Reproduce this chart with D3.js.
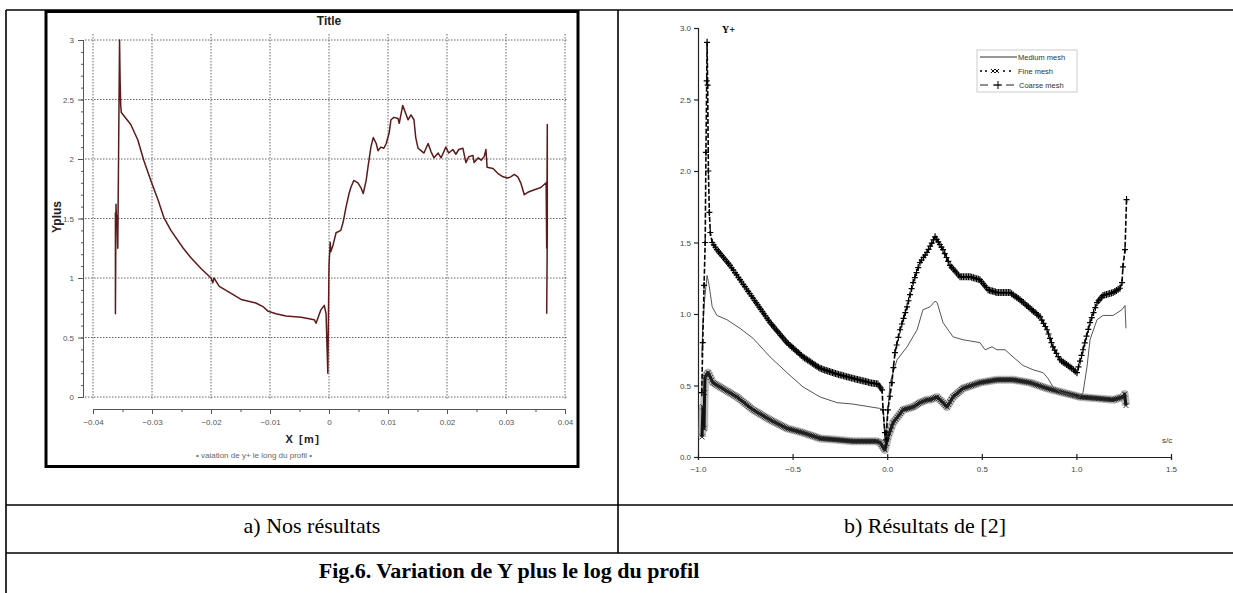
<!DOCTYPE html>
<html>
<head>
<meta charset="utf-8">
<script src="https://cdn.jsdelivr.net/npm/d3@7"></script>
<style>
body { margin: 0; background: #fff; }
svg { display: block; }
</style>
</head>
<body>
<div id="fig"></div>
<script>
// --- dades: gràfic a) (X en m, Yplus)
const xNos = [-0.0362, -0.0362, -0.0361, -0.0360, -0.0359, -0.0358, -0.0355, -0.0354, -0.0353, -0.0352,
	-0.0336, -0.0324, -0.0314, -0.0302, -0.0290, -0.0280, -0.0268, -0.0247, -0.0234, -0.0217,
	-0.0200, -0.0197, -0.0195, -0.0186, -0.0166, -0.0149, -0.0124, -0.0112, -0.0103, -0.0090,
	-0.0073, -0.0047, -0.0025, -0.0022, -0.0014, -0.0008, -0.0005, -0.0002, 0.0000, 0.0002,
	0.0003, 0.0007, 0.0012, 0.0020, 0.0024, 0.0029, 0.0034, 0.0037, 0.0042, 0.0049,
	0.0054, 0.0058, 0.0063, 0.0066, 0.0071, 0.0075, 0.0080, 0.0083, 0.0088, 0.0093,
	0.0097, 0.0102, 0.0105, 0.0110, 0.0117, 0.0119, 0.0125, 0.0131, 0.0134, 0.0139,
	0.0144, 0.0147, 0.0151, 0.0156, 0.0161, 0.0168, 0.0173, 0.0178, 0.0185, 0.0190,
	0.0198, 0.0203, 0.0210, 0.0215, 0.0220, 0.0227, 0.0232, 0.0237, 0.0244, 0.0246,
	0.0253, 0.0258, 0.0263, 0.0266, 0.0268, 0.0278, 0.0286, 0.0295, 0.0303, 0.0308,
	0.0314, 0.0320, 0.0325, 0.0331, 0.0337, 0.0347, 0.0359, 0.0368, 0.0369, 0.0370,
	0.0370, 0.0369];
const yNos = [1.55, 0.70, 1.62, 1.45, 1.52, 1.25, 3.00, 2.65, 2.45, 2.39,
	2.29, 2.16, 1.99, 1.82, 1.66, 1.51, 1.40, 1.25, 1.17, 1.08,
	1.00, 0.96, 1.00, 0.93, 0.87, 0.82, 0.79, 0.76, 0.72, 0.70,
	0.68, 0.67, 0.65, 0.62, 0.73, 0.77, 0.70, 0.20, 1.10, 1.30,
	1.22, 1.28, 1.38, 1.40, 1.47, 1.60, 1.71, 1.76, 1.82, 1.80,
	1.76, 1.71, 1.82, 1.93, 2.10, 2.18, 2.13, 2.07, 2.10, 2.09,
	2.13, 2.22, 2.33, 2.35, 2.34, 2.30, 2.45, 2.37, 2.33, 2.37,
	2.33, 2.18, 2.09, 2.07, 2.05, 2.13, 2.06, 2.01, 2.05, 2.01,
	2.10, 2.05, 2.08, 2.04, 2.08, 2.09, 1.97, 2.02, 2.03, 1.97,
	2.01, 1.99, 2.02, 2.08, 1.93, 1.92, 1.88, 1.85, 1.84, 1.85,
	1.87, 1.85, 1.80, 1.70, 1.72, 1.74, 1.76, 1.80, 1.25, 2.29,
	1.40, 0.70];
const xTicsNos = [-0.04, -0.03, -0.02, -0.01, 0, 0.01, 0.02, 0.03, 0.04];
const yTicsNos = [0, 0.5, 1, 1.5, 2, 2.5, 3];

// --- dades: gràfic b) (s/c, Y+)
const sMedium = [-0.980, -0.975, -0.965, -0.952, -0.940, -0.925, -0.900, -0.847, -0.778, -0.709,
	-0.619, -0.530, -0.445, -0.355, -0.265, -0.181, -0.040, -0.020, -0.012, -0.005,
	0.004, 0.015, 0.052, 0.105, 0.158, 0.189, 0.226, 0.253, 0.264, 0.295,
	0.348, 0.401, 0.490, 0.517, 0.554, 0.580, 0.623, 0.665, 0.718, 0.771,
	0.824, 0.850, 0.876, 0.920, 0.980, 1.008, 1.035, 1.056, 1.072, 1.109,
	1.141, 1.194, 1.241, 1.257, 1.262];
const vMedium = [0.70, 0.91, 1.10, 1.27, 1.19, 1.05, 0.99, 0.96, 0.90, 0.83,
	0.70, 0.59, 0.49, 0.42, 0.38, 0.37, 0.34, 0.33, 0.10, 0.20,
	0.33, 0.52, 0.68, 0.77, 0.89, 1.03, 1.05, 1.09, 1.08, 0.94,
	0.84, 0.82, 0.80, 0.75, 0.77, 0.75, 0.75, 0.70, 0.64, 0.61,
	0.59, 0.55, 0.49, 0.45, 0.43, 0.41, 0.45, 0.63, 0.82, 0.96,
	0.99, 0.99, 1.03, 1.06, 0.90];
const sFine = [-0.979, -0.974, -0.968, -0.965, -0.963, -0.947, -0.921, -0.884, -0.794, -0.709,
	-0.619, -0.530, -0.445, -0.355, -0.265, -0.181, -0.054, -0.038, -0.012, 0.004,
	0.031, 0.084, 0.137, 0.173, 0.210, 0.226, 0.263, 0.295, 0.316, 0.348,
	0.401, 0.490, 0.580, 0.665, 0.755, 0.845, 0.930, 1.019, 1.109, 1.194,
	1.247, 1.255, 1.262];
const vFine = [0.14, 0.35, 0.20, 0.45, 0.56, 0.59, 0.52, 0.49, 0.42, 0.33,
	0.26, 0.20, 0.17, 0.13, 0.12, 0.11, 0.11, 0.10, 0.05, 0.14,
	0.24, 0.33, 0.35, 0.38, 0.40, 0.40, 0.42, 0.38, 0.35, 0.42,
	0.48, 0.52, 0.54, 0.54, 0.52, 0.48, 0.45, 0.42, 0.41, 0.40,
	0.42, 0.44, 0.36];
const sCoarse = [-0.980, -0.975, -0.968, -0.962, -0.958, -0.954, -0.952, -0.949, -0.945, -0.940,
	-0.935, -0.925, -0.900, -0.831, -0.778, -0.709, -0.619, -0.530, -0.445, -0.355,
	-0.265, -0.181, -0.091, -0.049, -0.027, -0.022, -0.012, -0.006, 0.004, 0.025,
	0.041, 0.068, 0.105, 0.137, 0.173, 0.210, 0.253, 0.295, 0.332, 0.385,
	0.438, 0.490, 0.533, 0.580, 0.649, 0.702, 0.755, 0.808, 0.845, 0.876,
	0.913, 0.966, 1.003, 1.035, 1.072, 1.109, 1.141, 1.194, 1.230, 1.241,
	1.246, 1.257, 1.265];
const vCoarse = [0.45, 0.80, 1.20, 1.50, 2.13, 2.63, 2.90, 2.60, 2.00, 1.71,
	1.57, 1.50, 1.45, 1.34, 1.24, 1.11, 0.94, 0.80, 0.70, 0.62,
	0.58, 0.55, 0.52, 0.51, 0.47, 0.33, 0.17, 0.12, 0.33, 0.52,
	0.73, 0.89, 1.05, 1.22, 1.36, 1.43, 1.54, 1.45, 1.34, 1.26,
	1.26, 1.24, 1.17, 1.15, 1.15, 1.10, 1.04, 0.98, 0.89, 0.77,
	0.68, 0.63, 0.59, 0.75, 0.94, 1.08, 1.13, 1.15, 1.18, 1.22,
	1.33, 1.45, 1.80];
const xTicsRes = [-1.0, -0.5, 0.0, 0.5, 1.0, 1.5];
const yTicsRes = [0.0, 0.5, 1.0, 1.5, 2.0, 2.5, 3.0];
const llegendaRes = ['Medium mesh', 'Fine mesh', 'Coarse mesh'];

const Amplada = 1233, Alçada = 593;
const sans = 'Liberation Sans, Arial, sans-serif';
const serif = 'Liberation Serif, Times New Roman, serif';

const svg = d3.select('#fig').append('svg')
	.attr('width', Amplada)
	.attr('height', Alçada);

// taula del document
const taula = svg.append('g').attr('stroke', '#000').attr('stroke-width', 1.6);
taula.append('line').attr('x1', 6).attr('x2', 6).attr('y1', 10).attr('y2', Alçada);
taula.append('line').attr('x1', 6).attr('x2', Amplada).attr('y1', 10).attr('y2', 10);
taula.append('line').attr('x1', 618).attr('x2', 618).attr('y1', 10).attr('y2', 553);
taula.append('line').attr('x1', 6).attr('x2', Amplada).attr('y1', 505).attr('y2', 505);
taula.append('line').attr('x1', 6).attr('x2', Amplada).attr('y1', 553).attr('y2', 553);

svg.append('text').attr('x', 312).attr('y', 533).attr('text-anchor', 'middle')
	.style('font-family', serif).style('font-size', '22px').text('a) Nos résultats');
svg.append('text').attr('x', 925).attr('y', 533).attr('text-anchor', 'middle')
	.style('font-family', serif).style('font-size', '22px').text('b) Résultats de [2]');
svg.append('text').attr('x', 509).attr('y', 578).attr('text-anchor', 'middle')
	.style('font-family', serif).style('font-size', '22px').style('font-weight', 'bold')
	.text('Fig.6. Variation de Y plus le log du profil');

// ================= gràfic a)
const gA = svg.append('g');
gA.append('rect').attr('x', 46).attr('y', 11.5).attr('width', 532).attr('height', 455)
	.attr('fill', '#fff').attr('stroke', '#000').attr('stroke-width', 3);

const xA = d3.scaleLinear().domain([-0.04, 0.04]).range([93, 565]);
const yA = d3.scaleLinear().domain([0, 3]).range([397, 40]);

// reixeta puntejada
gA.append('g').selectAll('line').data(xTicsNos).join('line')
	.attr('x1', d => xA(d)).attr('x2', d => xA(d))
	.attr('y1', 34).attr('y2', 400)
	.attr('stroke', '#666').attr('stroke-width', 1).attr('stroke-dasharray', '1.5,1.5');
gA.append('g').selectAll('line').data(yTicsNos).join('line')
	.attr('x1', 85).attr('x2', 567)
	.attr('y1', d => yA(d)).attr('y2', d => yA(d))
	.attr('stroke', '#666').attr('stroke-width', 1).attr('stroke-dasharray', '1.5,1.5');

// eixos
const eixY = gA.append('g').attr('transform', 'translate(83,0)');
eixY.call(d3.axisLeft(yA).ticks(30).tickSize(2).tickFormat(''));
eixY.call(g => g.append('g').call(d3.axisLeft(yA).tickValues(yTicsNos).tickSize(5).tickFormat(d3.format('~g'))));
const eixX = gA.append('g').attr('transform', 'translate(0,409)');
eixX.call(d3.axisBottom(xA).ticks(16).tickSize(3).tickFormat(''));
eixX.call(g => g.append('g').call(d3.axisBottom(xA).tickValues(xTicsNos).tickSize(5).tickFormat(d3.format('~g'))));
gA.selectAll('.domain').attr('stroke', '#555');
gA.selectAll('.tick line').attr('stroke', '#555');
gA.selectAll('.tick text').attr('fill', '#555').style('font-family', sans).style('font-size', '8px');
eixY.selectAll('.tick text').attr('x', -9);
eixX.selectAll('.tick text').attr('y', 10);

gA.append('path')
	.datum(d3.zip(xNos, yNos))
	.attr('fill', 'none')
	.attr('stroke', '#5e1a1a')
	.attr('stroke-width', 1.5)
	.attr('stroke-linejoin', 'round')
	.attr('d', d3.line().x(d => xA(d[0])).y(d => yA(d[1])));

gA.append('text').attr('x', 329).attr('y', 25).attr('text-anchor', 'middle')
	.style('font-family', sans).style('font-size', '12px').style('font-weight', 'bold')
	.attr('fill', '#222').text('Title');
gA.append('text').attr('transform', 'translate(61,217) rotate(-90)').attr('text-anchor', 'middle')
	.style('font-family', sans).style('font-size', '12px').style('font-weight', 'bold')
	.attr('fill', '#222').text('Yplus');
gA.append('text').attr('x', 303).attr('y', 443).attr('text-anchor', 'middle')
	.style('font-family', sans).style('font-size', '11px').style('font-weight', 'bold')
	.style('letter-spacing', '1.5px').attr('fill', '#222').text('X [m]');
gA.append('text').attr('x', 254).attr('y', 458).attr('text-anchor', 'middle')
	.style('font-family', sans).style('font-size', '8px').attr('fill', '#666')
	.text('•  vaiation de y+ le long du profil  •');

// ================= gràfic b)
const gB = svg.append('g');
const xB = d3.scaleLinear().domain([-1, 1.5]).range([698, 1171]);
const yB = d3.scaleLinear().domain([0, 3]).range([457, 28]);

const eixYB = gB.append('g').attr('transform', 'translate(698,0)')
	.call(d3.axisLeft(yB).tickValues(yTicsRes).tickSize(4).tickFormat(d3.format('.1f')));
const eixXB = gB.append('g').attr('transform', 'translate(0,457)')
	.call(d3.axisBottom(xB).tickValues(xTicsRes).tickSize(3).tickFormat(d3.format('.1f')));
eixXB.selectAll('.tick line').attr('y1', -3);
gB.selectAll('.domain').attr('stroke', '#222').attr('stroke-width', 1.2);
gB.selectAll('.tick line').attr('stroke', '#222').attr('stroke-width', 1.2);
gB.selectAll('.tick text').attr('fill', '#444').style('font-family', sans).style('font-size', '8px');
eixXB.selectAll('.tick text').attr('y', 9);

gB.append('text').attr('x', 722).attr('y', 33)
	.style('font-family', serif).style('font-size', '10px').style('font-weight', 'bold').text('Y+');
gB.append('text').attr('x', 1162).attr('y', 443)
	.style('font-family', sans).style('font-size', '8px').attr('fill', '#333').text('s/c');

const línia = d3.line().x(d => xB(d[0])).y(d => yB(d[1]));

// marques al llarg de la corba (densitat segons l'avanç en s)
function marques(pts, pas) {
	const px = pts.map(d => [xB(d[0]), yB(d[1])]);
	const fora = [];
	for (let i = 0; i < px.length - 1; i++) {
		const [x0, y0] = px[i], [x1, y1] = px[i + 1];
		const n = Math.max(1, Math.round(Math.abs(x1 - x0) / pas));
		for (let j = 0; j < n; j++) {
			const t = j / n;
			fora.push([x0 + (x1 - x0) * t, y0 + (y1 - y0) * t]);
		}
	}
	fora.push(px[px.length - 1]);
	return fora;
}

// Fine mesh: banda de creus x
const fina = d3.zip(sFine, vFine);
gB.append('path').datum(fina).attr('d', línia).attr('fill', 'none')
	.attr('stroke', '#888').attr('stroke-width', 8).attr('stroke-opacity', 0.6).attr('stroke-linejoin', 'round');
gB.append('path').datum(fina).attr('d', línia).attr('fill', 'none')
	.attr('stroke', '#111').attr('stroke-width', 3).attr('stroke-linejoin', 'round');
gB.append('g').selectAll('path').data(marques(fina, 1.4)).join('path')
	.attr('d', d => `M${d[0] - 2.5},${d[1] - 2.5}L${d[0] + 2.5},${d[1] + 2.5}M${d[0] - 2.5},${d[1] + 2.5}L${d[0] + 2.5},${d[1] - 2.5}`)
	.attr('stroke', '#222').attr('stroke-width', 0.9);

// Medium mesh: línia fina
gB.append('path').datum(d3.zip(sMedium, vMedium)).attr('d', línia).attr('fill', 'none')
	.attr('stroke', '#555').attr('stroke-width', 1);

// Coarse mesh: traç discontinu amb creus +
const grossa = d3.zip(sCoarse, vCoarse);
gB.append('path').datum(grossa).attr('d', línia).attr('fill', 'none')
	.attr('stroke', '#000').attr('stroke-width', 1.6).attr('stroke-dasharray', '5,2');
gB.append('g').selectAll('path').data(marques(grossa, 1.6)).join('path')
	.attr('d', d => `M${d[0] - 3},${d[1]}H${d[0] + 3}M${d[0]},${d[1] - 3.5}V${d[1] + 3.5}`)
	.attr('stroke', '#000').attr('stroke-width', 1.2);

// llegenda
const lleg = gB.append('g');
lleg.append('rect').attr('x', 977).attr('y', 50).attr('width', 100).attr('height', 42)
	.attr('fill', '#fff').attr('stroke', '#ccc').attr('stroke-width', 1);
const fil = [57, 71, 85];
lleg.selectAll('text').data(llegendaRes).join('text')
	.attr('x', (d, i) => i === 2 ? 1019 : 1018).attr('y', (d, i) => fil[i] + 3)
	.style('font-family', sans).style('font-size', '7.5px').attr('fill', '#333').text(d => d);
lleg.append('line').attr('x1', 980).attr('x2', 1017).attr('y1', fil[0]).attr('y2', fil[0])
	.attr('stroke', '#333').attr('stroke-width', 1);
lleg.append('g').selectAll('circle').data([981, 986, 1004, 1010]).join('circle')
	.attr('cx', d => d).attr('cy', fil[1]).attr('r', 1.1).attr('fill', '#111');
lleg.append('g').selectAll('path').data([993, 997]).join('path')
	.attr('d', d => `M${d - 2},${fil[1] - 2}L${d + 2},${fil[1] + 2}M${d - 2},${fil[1] + 2}L${d + 2},${fil[1] - 2}`)
	.attr('stroke', '#111').attr('stroke-width', 1);
lleg.append('line').attr('x1', 980).attr('x2', 1015).attr('y1', fil[2]).attr('y2', fil[2])
	.attr('stroke', '#222').attr('stroke-width', 1).attr('stroke-dasharray', '8,5');
lleg.append('path').attr('d', `M994,${fil[2]}H1002M998,${fil[2] - 4}V${fil[2] + 4}`)
	.attr('stroke', '#111').attr('stroke-width', 1.1);
</script>
</body>
</html>
